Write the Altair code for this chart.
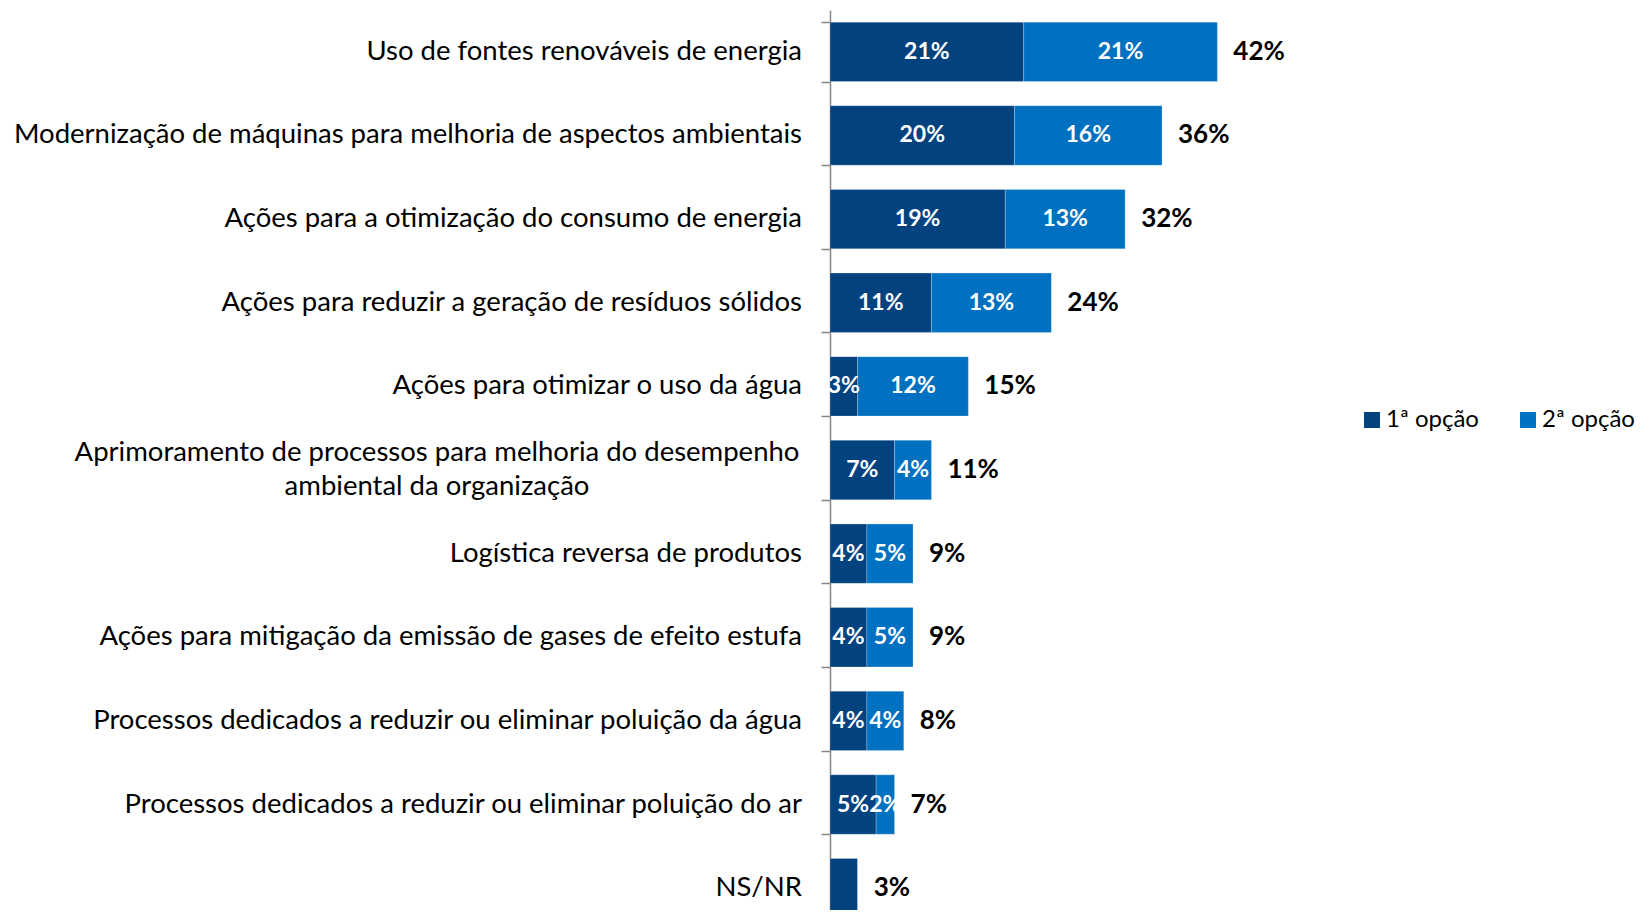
import altair as alt
import pandas as pd

categories = [
    "Uso de fontes renováveis de energia",
    "Modernização de máquinas para melhoria de aspectos ambientais",
    "Ações para a otimização do consumo de energia",
    "Ações para reduzir a geração de resíduos sólidos",
    "Ações para otimizar o uso da água",
    "Aprimoramento de processos para melhoria do desempenho ambiental da organização",
    "Logística reversa de produtos",
    "Ações para mitigação da emissão de gases de efeito estufa",
    "Processos dedicados a reduzir ou eliminar poluição da água",
    "Processos dedicados a reduzir ou eliminar poluição do ar",
    "NS/NR",
]
label_lines = list(categories)
label_lines[5] = "Aprimoramento de processos para melhoria do desempenho\nambiental da organização"

first = [21, 20, 19, 11, 3, 7, 4, 4, 4, 5, 3]
second = [21, 16, 13, 13, 12, 4, 5, 5, 4, 2, 0]
totals = [42, 36, 32, 24, 15, 11, 9, 9, 8, 7, 3]
series = ["1ª opção", "2ª opção"]
colors = ["#02427f", "#0070c0"]

rows = []
for i, c in enumerate(categories):
    for k, vals in enumerate([first, second]):
        rows.append({"cat": c, "serie": series[k], "ord": k, "value": vals[i]})
long = pd.DataFrame(rows)
tot = pd.DataFrame({
    "cat": categories,
    "total": totals,
    "label": label_lines,
    "multi": ["\n" in s for s in label_lines],
})

FONT = "Lato"
xscale = alt.Scale(domain=[0, 79.8], nice=False, zero=True)
y = alt.Y(
    "cat:N",
    scale=alt.Scale(domain=categories, range=[0, 920], paddingInner=0.29, paddingOuter=0.145),
    axis=alt.Axis(
        title=None, labels=False, domain=True, domainColor="#868686", domainWidth=1.5,
        ticks=True, tickColor="#868686", tickWidth=1.5, tickSize=9, tickBand="extent", grid=False,
    ),
)

bars = alt.Chart(long).mark_bar(stroke="white", strokeOpacity=0.3, strokeWidth=0.8).encode(
    x=alt.X("value:Q", stack="zero", scale=xscale, axis=None),
    y=y,
    color=alt.Color(
        "serie:N",
        scale=alt.Scale(domain=series, range=colors),
        legend=alt.Legend(
            title=None, orient="none", legendX=530, legendY=398, direction="horizontal",
            columns=2, symbolType="square", symbolSize=256, symbolStrokeWidth=0,
            labelFont=FONT, labelFontSize=24, labelColor="black", labelOffset=2,
            columnPadding=37, padding=0,
        ),
    ),
    order=alt.Order("ord:Q"),
)

seg = (
    alt.Chart(long)
    .transform_filter("datum.value > 0 && datum.cat != 'NS/NR'")
    .transform_stack(stack="value", groupby=["cat"], as_=["x0", "x1"], sort=[alt.SortField("ord")])
    .transform_calculate(mid="(datum.x0 + datum.x1) / 2", txt="datum.value + '%'")
    .mark_text(font=FONT, fontWeight="bold", fontSize=23, color="white", baseline="middle")
    .encode(x=alt.X("mid:Q", scale=xscale, axis=None), y=y, text="txt:N")
)

totl = (
    alt.Chart(tot)
    .transform_calculate(txt="datum.total + '%'")
    .mark_text(align="left", dx=16, font=FONT, fontWeight="bold", fontSize=26, color="black", baseline="middle")
    .encode(x=alt.X("total:Q", scale=xscale, axis=None), y=y, text="txt:N")
)

lab1 = (
    alt.Chart(tot)
    .transform_filter("!datum.multi")
    .mark_text(align="right", baseline="middle", font=FONT, fontSize=27.5, color="black")
    .encode(x=alt.value(-28), y=y, text="label:N")
)
lab2 = (
    alt.Chart(tot)
    .transform_filter("datum.multi")
    .mark_text(align="center", baseline="middle", lineBreak="\n", lineHeight=34, dy=-17,
               font=FONT, fontSize=27.5, color="black")
    .encode(x=alt.value(-393), y=y, text="label:N")
)

chart = (
    alt.layer(bars, seg, totl, lab1, lab2)
    .properties(
        width=736, height=900,
        autosize=alt.AutoSizeParams(type="none"),
        padding={"left": 822, "top": 2, "right": 75, "bottom": 0},
    )
    .configure_view(stroke=None)
)

chart.save("out.html", embed_options={"renderer": "svg", "actions": False})
